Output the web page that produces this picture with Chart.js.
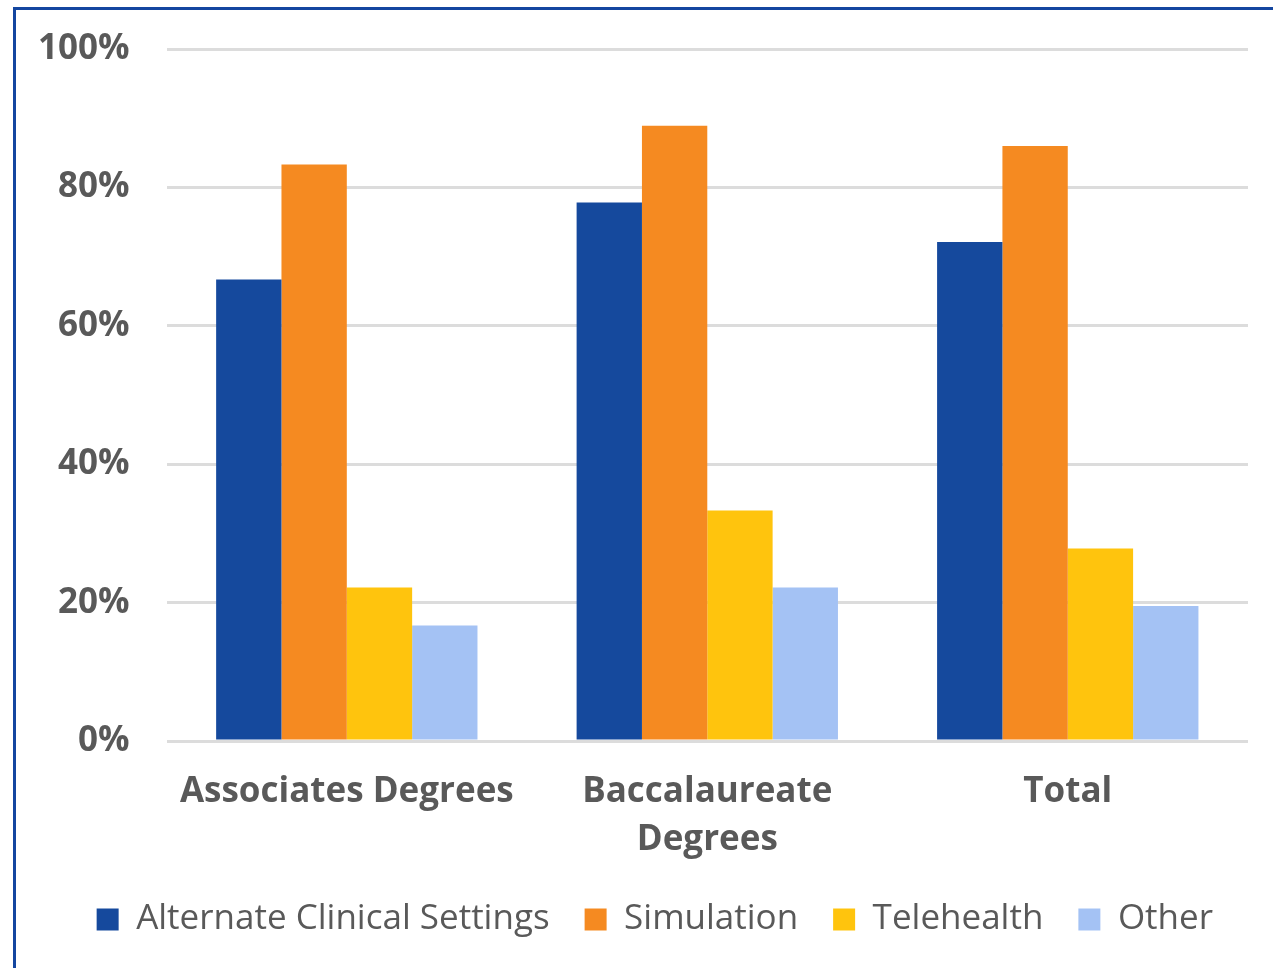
<!DOCTYPE html>
<html>
<head>
<meta charset="utf-8">
<script src="https://cdn.jsdelivr.net/npm/chart.js@4"></script>
<style>
  html, body { margin: 0; padding: 0; background: #fff; overflow: hidden; }
  #wrap { position: relative; width: 1273px; height: 968px; }
  #frame { position: absolute; left: 13px; top: 7px; width: 1400px; height: 1100px;
           border-left: 3px solid #1446A0; border-top: 3px solid #1446A0; pointer-events: none; }
  canvas { position: absolute; left: 0; top: 0; }
</style>
</head>
<body>
<div id="wrap">
  <canvas id="chart" width="1273" height="968"></canvas>
  <div id="frame"></div>
</div>
<script>
// categories
const programs = ['Associates Degrees', ['Baccalaureate', 'Degrees'], 'Total'];
// series values (percent)
const alternateClinical = [66.7, 77.8, 72.1];
const simulation = [83.3, 88.9, 86.0];
const telehealth = [22.2, 33.3, 27.8];
const other = [16.7, 22.2, 19.5];
// y tick labels
const yTicks = [0, 20, 40, 60, 80, 100];

const grey = '#595959';

var ctx = document.getElementById('chart').getContext('2d');
var chart = new Chart(ctx, {
  type: 'bar',
  data: {
    labels: programs,
    datasets: [
      { label: 'Alternate Clinical Settings', data: alternateClinical, backgroundColor: '#15499D' },
      { label: 'Simulation', data: simulation, backgroundColor: '#F58A21' },
      { label: 'Telehealth', data: telehealth, backgroundColor: '#FFC40D' },
      { label: 'Other', data: other, backgroundColor: '#A4C2F4' }
    ]
  },
  options: {
    responsive: false,
    animation: false,
    layout: { padding: { left: 1, right: 25, top: 49, bottom: 21 } },
    datasets: { bar: { categoryPercentage: 0.725, barPercentage: 1.0 } },
    scales: {
      y: {
        min: 0, max: 100,
        afterBuildTicks: function(axis) { axis.ticks = yTicks.map(v => ({ value: v })); },
        // top spacing comes from layout padding only
        afterFit: function(axis) { axis.paddingTop = 0; },
        ticks: {
          callback: v => v + '%',
          color: grey, padding: 37,
          font: { family: 'Open Sans', size: 35, weight: 'bold' }
        },
        grid: { color: '#DCDCDC', lineWidth: 3, drawTicks: false },
        border: { display: false }
      },
      x: {
        // fixed axis box height so the legend sits closer to the labels
        afterFit: function(axis) { axis.height = 126; },
        ticks: {
          color: grey, padding: 19, maxRotation: 0,
          font: { family: 'Open Sans', size: 35, weight: 'bold', lineHeight: 1.38 }
        },
        grid: { display: false },
        border: { display: false }
      }
    },
    plugins: {
      tooltip: { enabled: false },
      legend: {
        position: 'bottom',
        align: 'end',
        labels: {
          color: grey, boxWidth: 22, boxHeight: 22, padding: 35,
          font: { family: 'Open Sans', size: 35 }
        }
      }
    }
  }
});
</script>
</body>
</html>
